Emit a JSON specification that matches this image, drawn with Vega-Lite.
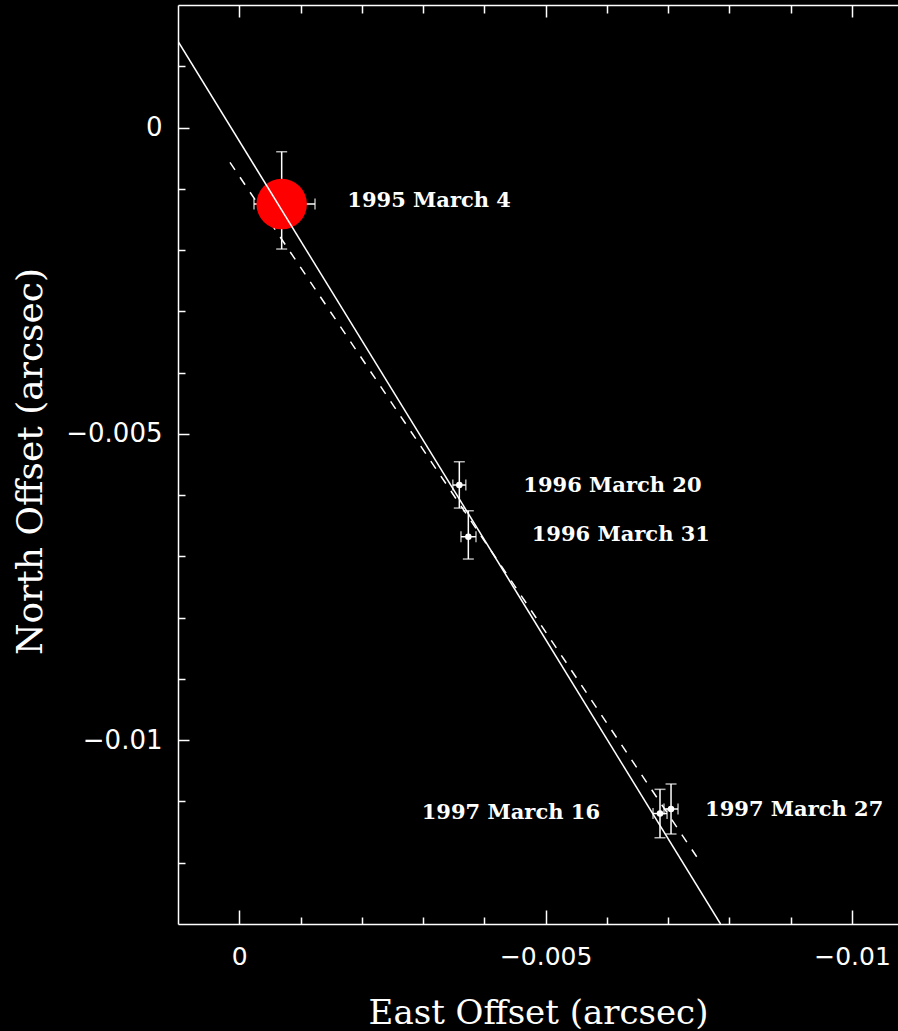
{
  "$schema": "https://vega.github.io/schema/vega-lite/v6.json",
  "width": 720,
  "height": 919,
  "autosize": "none",
  "padding": {"left": 178, "top": 5, "right": 0, "bottom": 107},
  "background": "black",
  "config": {"view": {"stroke": null}},
  "datasets": {
    "obs": [
      {"date": "1995 March 4", "east": -0.000692, "north": -0.001249, "eastLo": -0.00024, "eastHi": -0.001236, "northLo": -0.000395, "northHi": -0.001983, "kind": "first"},
      {"date": "1996 March 20", "east": -0.003591, "north": -0.005835, "eastLo": -0.003485, "eastHi": -0.003697, "northLo": -0.005455, "northHi": -0.006211, "kind": "later"},
      {"date": "1996 March 31", "east": -0.003738, "north": -0.006679, "eastLo": -0.003618, "eastHi": -0.003863, "northLo": -0.006255, "northHi": -0.007043, "kind": "later"},
      {"date": "1997 March 16", "east": -0.006866, "north": -0.011197, "eastLo": -0.006752, "eastHi": -0.006981, "northLo": -0.010802, "northHi": -0.011592, "kind": "later"},
      {"date": "1997 March 27", "east": -0.007046, "north": -0.011123, "eastLo": -0.006931, "eastHi": -0.00716, "northLo": -0.010715, "northHi": -0.011531, "kind": "later"}
    ],
    "labels": [
      {"text": "1995 March 4", "east": -0.001763, "north": -0.001192, "side": "right"},
      {"text": "1996 March 20", "east": -0.004635, "north": -0.005843, "side": "right"},
      {"text": "1996 March 31", "east": -0.004772, "north": -0.006651, "side": "right"},
      {"text": "1997 March 16", "east": -0.005887, "north": -0.011186, "side": "left"},
      {"text": "1997 March 27", "east": -0.007601, "north": -0.011132, "side": "right"}
    ],
    "fitSolid": [
      {"east": 0.000996, "north": 0.0014},
      {"east": -0.007854, "north": -0.013}
    ],
    "fitDashed": [
      {"east": 0.000152, "north": -0.000568},
      {"east": -0.007465, "north": -0.011902}
    ]
  },
  "layer": [
    {
      "layer": [
        {
          "data": {"name": "fitDashed"},
          "mark": {"type": "line", "color": "white", "strokeWidth": 1.5, "strokeDash": [9, 9], "clip": true},
          "encoding": {
            "x": {"field": "east", "type": "quantitative", "scale": {"domain": [0.001, -0.01075], "nice": false, "zero": false},
              "axis": {"orient": "bottom", "values": [0, -0.001, -0.002, -0.003, -0.004, -0.005, -0.006, -0.007, -0.008, -0.009, -0.01], "format": "~g",
                "labelExpr": "abs(round(datum.value*1000)) % 5 == 0 ? datum.label : ''",
                "tickSize": {"condition": {"test": "abs(round(datum.value*1000)) % 5 == 0", "value": -14}, "value": -7},
                "tickColor": "white", "tickWidth": 1.5, "domainColor": "white", "domainWidth": 1.5, "grid": false,
                "labelColor": "white", "labelFont": "DejaVu Sans", "labelFontSize": 25, "labelPadding": 34, "labelFlush": false, "labelOverlap": false,
                "title": "East Offset (arcsec)", "titleColor": "white", "titleFont": "DejaVu Serif", "titleFontSize": 34, "titleFontWeight": "normal",
                "titleBaseline": "alphabetic", "titleY": 99}},
            "y": {"field": "north", "type": "quantitative", "scale": {"domain": [-0.013, 0.002], "nice": false, "zero": false},
              "axis": {"orient": "left", "values": [0.001, 0, -0.001, -0.002, -0.003, -0.004, -0.005, -0.006, -0.007, -0.008, -0.009, -0.01, -0.011, -0.012], "format": "~g",
                "labelExpr": "abs(round(datum.value*1000)) % 5 == 0 ? datum.label : ''",
                "tickSize": {"condition": {"test": "abs(round(datum.value*1000)) % 5 == 0", "value": -11}, "value": -7},
                "tickColor": "white", "tickWidth": 1.5, "domainColor": "white", "domainWidth": 1.5, "grid": false,
                "labelColor": "white", "labelFont": "DejaVu Sans", "labelFontSize": 26, "labelPadding": 27, "labelFlush": false, "labelOverlap": false,
                "title": "North Offset (arcsec)", "titleColor": "white", "titleFont": "DejaVu Serif", "titleFontSize": 36, "titleFontWeight": "normal",
                "titleBaseline": "alphabetic", "titleAngle": -90, "titleAlign": "center", "titleX": -137, "titleY": 456}}
          }
        },
        {
          "data": {"name": "obs"},
          "mark": {"type": "errorbar", "color": "white", "thickness": 1.5, "size": 11, "ticks": true},
          "encoding": {
            "x": {"field": "east", "type": "quantitative", "scale": {"domain": [0.001, -0.01075], "nice": false, "zero": false}, "title": "East Offset (arcsec)"},
            "y": {"field": "northLo", "type": "quantitative", "scale": {"domain": [-0.013, 0.002], "nice": false, "zero": false}, "title": "North Offset (arcsec)"},
            "y2": {"field": "northHi"}
          }
        },
        {
          "data": {"name": "obs"},
          "mark": {"type": "errorbar", "color": "white", "thickness": 1.5, "size": 11, "ticks": true},
          "encoding": {
            "y": {"field": "north", "type": "quantitative", "scale": {"domain": [-0.013, 0.002], "nice": false, "zero": false}, "title": "North Offset (arcsec)"},
            "x": {"field": "eastLo", "type": "quantitative", "scale": {"domain": [0.001, -0.01075], "nice": false, "zero": false}, "title": "East Offset (arcsec)"},
            "x2": {"field": "eastHi"}
          }
        },
        {
          "data": {"name": "obs"},
          "transform": [{"filter": "datum.kind == 'later'"}],
          "mark": {"type": "point", "shape": "circle", "filled": true, "color": "white", "opacity": 1, "size": 42},
          "encoding": {
            "x": {"field": "east", "type": "quantitative", "scale": {"domain": [0.001, -0.01075], "nice": false, "zero": false}, "title": "East Offset (arcsec)"},
            "y": {"field": "north", "type": "quantitative", "scale": {"domain": [-0.013, 0.002], "nice": false, "zero": false}, "title": "North Offset (arcsec)"}
          }
        },
        {
          "data": {"name": "obs"},
          "transform": [{"filter": "datum.kind == 'first'"}],
          "mark": {"type": "point", "shape": "circle", "filled": true, "color": "#ff0000", "opacity": 1, "size": 2550},
          "encoding": {
            "x": {"field": "east", "type": "quantitative", "scale": {"domain": [0.001, -0.01075], "nice": false, "zero": false}, "title": "East Offset (arcsec)"},
            "y": {"field": "north", "type": "quantitative", "scale": {"domain": [-0.013, 0.002], "nice": false, "zero": false}, "title": "North Offset (arcsec)"}
          }
        },
        {
          "data": {"name": "labels"},
          "transform": [{"filter": "datum.side == 'right'"}],
          "mark": {"type": "text", "align": "left", "baseline": "middle", "color": "white", "font": "DejaVu Serif", "fontWeight": "bold", "fontSize": 21},
          "encoding": {
            "x": {"field": "east", "type": "quantitative", "scale": {"domain": [0.001, -0.01075], "nice": false, "zero": false}, "title": "East Offset (arcsec)"},
            "y": {"field": "north", "type": "quantitative", "scale": {"domain": [-0.013, 0.002], "nice": false, "zero": false}, "title": "North Offset (arcsec)"},
            "text": {"field": "text"}
          }
        },
        {
          "data": {"name": "labels"},
          "transform": [{"filter": "datum.side == 'left'"}],
          "mark": {"type": "text", "align": "right", "baseline": "middle", "color": "white", "font": "DejaVu Serif", "fontWeight": "bold", "fontSize": 21},
          "encoding": {
            "x": {"field": "east", "type": "quantitative", "scale": {"domain": [0.001, -0.01075], "nice": false, "zero": false}, "title": "East Offset (arcsec)"},
            "y": {"field": "north", "type": "quantitative", "scale": {"domain": [-0.013, 0.002], "nice": false, "zero": false}, "title": "North Offset (arcsec)"},
            "text": {"field": "text"}
          }
        }
      ]
    },
    {
      "data": {"name": "fitSolid"},
      "mark": {"type": "line", "color": "white", "strokeWidth": 1.5, "clip": true},
      "encoding": {
        "x": {"field": "east", "type": "quantitative", "scale": {"domain": [0.001, -0.01075], "nice": false, "zero": false},
          "axis": {"orient": "top", "values": [0, -0.001, -0.002, -0.003, -0.004, -0.005, -0.006, -0.007, -0.008, -0.009, -0.01],
            "labels": false, "title": null,
            "tickSize": {"condition": {"test": "abs(round(datum.value*1000)) % 5 == 0", "value": -12}, "value": -8},
            "tickColor": "white", "tickWidth": 1.5, "domainColor": "white", "domainWidth": 1.5, "grid": false}},
        "y": {"field": "north", "type": "quantitative", "scale": {"domain": [-0.013, 0.002], "nice": false, "zero": false}, "title": "North Offset (arcsec)"}
      }
    }
  ],
  "resolve": {"scale": {"x": "independent"}, "axis": {"x": "independent"}}
}
